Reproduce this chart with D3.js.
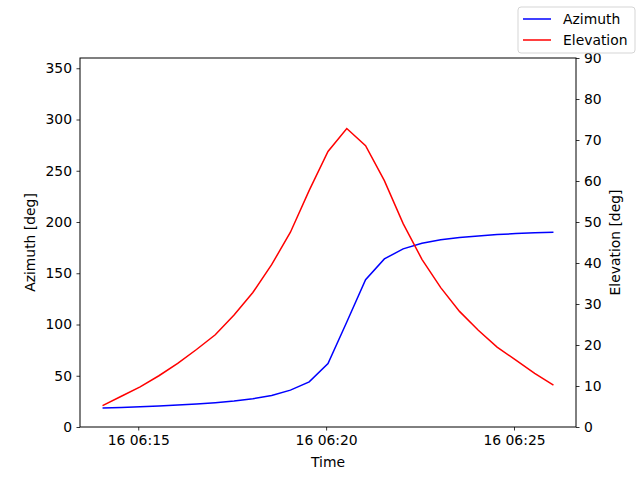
<!DOCTYPE html>
<html>
<head>
<meta charset="utf-8">
<script src="https://cdn.jsdelivr.net/npm/d3@7"></script>
<style>
  body { margin: 0; background: #fff; }
  text { font-family: "DejaVu Sans", sans-serif; }
</style>
</head>
<body>
<script>
// pass times (UTC), one sample every 30 s
const times = [
  "06:14:03", "06:14:33", "06:15:03", "06:15:33", "06:16:03",
  "06:16:33", "06:17:03", "06:17:33", "06:18:03", "06:18:33",
  "06:19:03", "06:19:33", "06:20:03", "06:20:33", "06:21:03",
  "06:21:33", "06:22:03", "06:22:33", "06:23:03", "06:23:33",
  "06:24:03", "06:24:33", "06:25:03", "06:25:33", "06:26:03"
];
const azimuth = [
  18.5, 19.1, 19.8, 20.4, 21.4, 22.4, 23.7, 25.3, 27.6, 30.8,
  36.0, 44.0, 62.0, 102.5, 143.7, 164.0, 173.8, 179.3, 182.6, 184.8,
  186.4, 187.7, 188.7, 189.4, 190.0
];
const elevation = [
  5.2, 7.5, 9.8, 12.5, 15.5, 18.9, 22.5, 27.3, 32.8, 39.6,
  47.5, 57.7, 67.2, 72.8, 68.6, 60.1, 49.6, 40.9, 34.0, 28.2,
  23.6, 19.5, 16.3, 13.1, 10.2
];
const azTicks = [0, 50, 100, 150, 200, 250, 300, 350];
const elTicks = [0, 10, 20, 30, 40, 50, 60, 70, 80, 90];
const timeTicks = ["06:15:00", "06:20:00", "06:25:00"];

const width = 640, height = 480;
const margin = { top: 58, right: 64, bottom: 53, left: 80 };
const fs = 13.9;

const parse = s => new Date("2024-01-16T" + s + "Z");
const t = times.map(parse);

const svg = d3.select("body").append("svg")
    .attr("width", width)
    .attr("height", height);

const span = t[t.length - 1] - t[0];
const x = d3.scaleUtc()
    .domain([new Date(+t[0] - span * 0.05), new Date(+t[t.length - 1] + span * 0.05)])
    .range([margin.left, width - margin.right]);
const yAz = d3.scaleLinear().domain([0, 360]).range([height - margin.bottom, margin.top]);
const yEl = d3.scaleLinear().domain([0, 90]).range([height - margin.bottom, margin.top]);

// lines
const azLine = d3.line().x((d, i) => x(t[i])).y(d => yAz(d));
const elLine = d3.line().x((d, i) => x(t[i])).y(d => yEl(d));

svg.append("path").datum(azimuth)
    .attr("d", azLine).attr("fill", "none")
    .attr("stroke", "blue").attr("stroke-width", 1.5);
svg.append("path").datum(elevation)
    .attr("d", elLine).attr("fill", "none")
    .attr("stroke", "red").attr("stroke-width", 1.5);

// frame
svg.append("rect")
    .attr("x", margin.left).attr("y", margin.top)
    .attr("width", width - margin.left - margin.right)
    .attr("height", height - margin.top - margin.bottom)
    .attr("fill", "none").attr("stroke", "black").attr("stroke-width", 1);

function styleAxis(g) {
  g.select(".domain").remove();
  g.selectAll(".tick line").attr("stroke", "black").attr("stroke-width", 0.8);
  g.selectAll(".tick text").attr("font-size", fs).attr("fill", "black")
      .attr("font-family", "DejaVu Sans");
}

svg.append("g")
    .attr("transform", `translate(0,${height - margin.bottom})`)
    .call(d3.axisBottom(x).tickValues(timeTicks.map(parse))
        .tickFormat(d3.utcFormat("%d %H:%M")).tickSizeOuter(0).tickSize(3.5).tickPadding(4.5))
    .call(styleAxis);

svg.append("g")
    .attr("transform", `translate(${margin.left},0)`)
    .call(d3.axisLeft(yAz).tickValues(azTicks).tickSize(3.5).tickPadding(4.5))
    .call(styleAxis);

svg.append("g")
    .attr("transform", `translate(${width - margin.right},0)`)
    .call(d3.axisRight(yEl).tickValues(elTicks).tickSize(3.5).tickPadding(4.5))
    .call(styleAxis);

// axis titles
svg.append("text")
    .attr("x", (margin.left + width - margin.right) / 2).attr("y", 467)
    .attr("text-anchor", "middle").attr("font-size", fs).text("Time");
svg.append("text")
    .attr("transform", `translate(35,${(margin.top + height - margin.bottom) / 2}) rotate(-90)`)
    .attr("text-anchor", "middle").attr("font-size", fs).text("Azimuth [deg]");
svg.append("text")
    .attr("transform", `translate(620,${(margin.top + height - margin.bottom) / 2}) rotate(-90)`)
    .attr("text-anchor", "middle").attr("font-size", fs).text("Elevation [deg]");

// legend
const legend = svg.append("g").attr("transform", "translate(518,7)");
legend.append("rect")
    .attr("width", 117).attr("height", 46).attr("rx", 3)
    .attr("fill", "white").attr("fill-opacity", 0.8)
    .attr("stroke", "#d5d5d5").attr("stroke-width", 1);
const items = [{ name: "Azimuth", color: "blue" }, { name: "Elevation", color: "red" }];
items.forEach((d, i) => {
  const yy = 12 + i * 21;
  legend.append("line")
      .attr("x1", 5).attr("x2", 33).attr("y1", yy).attr("y2", yy)
      .attr("stroke", d.color).attr("stroke-width", 1.5);
  legend.append("text")
      .attr("x", 45).attr("y", yy + 5)
      .attr("font-size", fs).text(d.name);
});
</script>
</body>
</html>
